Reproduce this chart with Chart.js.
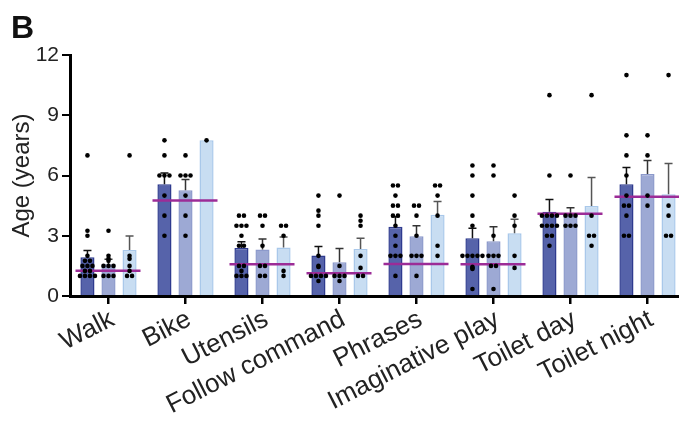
<!DOCTYPE html>
<html>
<head>
<meta charset="utf-8">
<script src="https://cdn.jsdelivr.net/npm/chart.js@4"></script>
<style>
  body { margin: 0; width: 679px; height: 422px; overflow: hidden; background: #fff; }
  #wrap { position: relative; width: 690px; height: 422px; }
  #panel { position: absolute; left: 11px; top: 11px; font: bold 32px "Liberation Sans", Arial, sans-serif; line-height: 32px; color: #111; }
</style>
</head>
<body>
<div id="wrap">
  <canvas id="chart" width="690" height="422"></canvas>
  <div id="panel">B</div>
</div>
<script>
// categories and values
const categories = ["Walk", "Bike", "Utensils", "Follow command", "Phrases", "Imaginative play", "Toilet day", "Toilet night"];

const meanDark = [1.93, 5.56, 2.39, 2.02, 3.45, 2.87, 4.19, 5.57];
const meanMid = [1.58, 5.26, 2.32, 1.68, 2.97, 2.72, 4.08, 6.08];
const meanLight = [2.29, 7.76, 2.42, 2.34, 4.05, 3.12, 4.48, 5.07];

const errDark = [0.34, 0.57, 0.31, 0.45, 0.5, 0.5, 0.62, 0.83];
const errMid = [0.25, 0.54, 0.52, 0.69, 0.53, 0.73, 0.31, 0.67];
const errLight = [0.7, 0, 0.52, 0.53, 0.66, 0.7, 1.42, 1.53];

const magentaLine = [1.26, 4.76, 1.58, 1.13, 1.59, 1.58, 4.09, 4.94];

const dotsDark = [
  [7, 3.25, 3, 2, 1.75, 1.75, 1.5, 1.5, 1.5, 1.25, 1.25, 1, 1, 1, 1],
  [7.75, 7, 6, 6, 6, 5, 4, 3],
  [4, 4, 3.5, 3.5, 3.5, 3, 2.5, 2.5, 1.5, 1.5, 1.25, 1, 1, 1],
  [5, 4.25, 4, 3.5, 2, 1.5, 1.45, 1, 1, 1, 1, 0.75],
  [5.5, 5.5, 5, 4.5, 4.5, 4, 4, 3.5, 3, 2.5, 2, 2, 2, 1],
  [6.5, 6, 5, 4, 3.5, 2, 2, 2, 2, 2, 1.45, 1.4, 1.35, 0.35],
  [10, 6, 4, 4, 4, 4, 3.5, 3.5, 3.5, 3.5, 3, 3, 2.5],
  [11, 8, 7, 6, 5, 4.5, 4.5, 4, 3, 3]
];
const dotsMid = [
  [3.25, 2, 1.85, 1.75, 1.5, 1.5, 1.5, 1, 1, 1],
  [7, 6, 6, 6, 5, 4, 3],
  [4, 4, 3.5, 2.5, 1.5, 1.5, 1, 1],
  [5, 1.5, 1, 1, 1, 0.75],
  [4.5, 4.5, 4, 3, 2, 2, 2, 1],
  [6.5, 6, 3, 2, 2, 2, 1.5, 1.5, 0.35],
  [6, 4, 4, 4, 3.5, 3.5, 3.5],
  [8, 7, 5, 4.5]
];
const dotsLight = [
  [7, 2, 1.85, 1.5, 1.25, 1, 1],
  [7.75],
  [3.5, 3.5, 3, 1.25, 1],
  [4, 3.75, 3.5, 2, 1.4, 1, 1],
  [5.5, 5.5, 5, 4, 2.5, 2],
  [5, 4, 3.5, 2, 1.4],
  [10, 4, 3, 3, 2.5],
  [11, 4.5, 4, 3, 3]
];

const yTicks = [0, 3, 6, 9, 12];

Chart.defaults.font.family = "'Liberation Sans', Arial, sans-serif";
Chart.defaults.color = "#222";

// error bars right after each bar set
const errorBars = {
  id: "errorBars",
  afterDatasetDraw(chart, args) {
    const ds = chart.data.datasets[args.index];
    if (!ds.errors) return;
    const ctx = chart.ctx;
    const y = chart.scales.y;
    ctx.save();
    ctx.strokeStyle = ds.errorColor;
    ctx.lineWidth = 1.5;
    args.meta.data.forEach((bar, i) => {
      const e = ds.errors[i];
      if (!e) return;
      const top = y.getPixelForValue(ds.data[i] + e);
      ctx.beginPath();
      ctx.moveTo(bar.x, bar.y);
      ctx.lineTo(bar.x, top);
      ctx.moveTo(bar.x - 4, top);
      ctx.lineTo(bar.x + 4, top);
      ctx.stroke();
    });
    ctx.restore();
  }
};

// magenta reference line per category, then individual dots over each bar
const overlay = {
  id: "overlay",
  afterDatasetsDraw(chart) {
    const ctx = chart.ctx;
    const y = chart.scales.y;
    const mid = chart.getDatasetMeta(1).data;
    ctx.save();
    ctx.strokeStyle = "#9C2C97";
    ctx.lineWidth = 2.5;
    magentaLine.forEach((v, i) => {
      const py = y.getPixelForValue(v);
      ctx.beginPath();
      ctx.moveTo(mid[i].x - 33, py);
      ctx.lineTo(mid[i].x + 32, py);
      ctx.stroke();
    });
    ctx.fillStyle = "#000";
    [dotsDark, dotsMid, dotsLight].forEach((groups, d) => {
      const bars = chart.getDatasetMeta(d).data;
      groups.forEach((vals, i) => {
        const counts = {};
        vals.forEach(v => counts[v] = (counts[v] || 0) + 1);
        const seen = {};
        vals.forEach(v => {
          const k = counts[v];
          const j = seen[v] || 0;
          seen[v] = j + 1;
          const px = bars[i].x + (j - (k - 1) / 2) * 5;
          ctx.beginPath();
          ctx.arc(px, y.getPixelForValue(v), 2.3, 0, Math.PI * 2);
          ctx.fill();
        });
      });
    });
    ctx.restore();
  }
};

function barSet(data, errors, fill, border, errColor) {
  return {
    data: data, errors: errors, errorColor: errColor,
    backgroundColor: fill, borderColor: border, borderWidth: 1.5,
    categoryPercentage: 0.82, barPercentage: 0.67
  };
}

new Chart(document.getElementById("chart"), {
  type: "bar",
  data: {
    labels: categories,
    datasets: [
      barSet(meanDark, errDark, "#5663AA", "#2F3B8E", "#111"),
      barSet(meanMid, errMid, "#9DA9D4", "#8C99CB", "#333"),
      barSet(meanLight, errLight, "#C8DDF2", "#A9C8EA", "#555")
    ]
  },
  options: {
    responsive: false,
    animation: false,
    layout: { padding: { top: 55, right: 4, left: 0, bottom: 0 } },
    plugins: { legend: { display: false }, tooltip: { enabled: false } },
    scales: {
      x: {
        grid: { offset: false, drawOnChartArea: false, tickLength: 8, color: "#000", lineWidth: 2.5 },
        border: { color: "#000", width: 3 },
        ticks: { autoSkip: false, minRotation: 27, maxRotation: 27, font: { size: 26 }, color: "#222", padding: 0, labelOffset: 4 },
        afterFit(scale) { scale.height = 126; }
      },
      y: {
        min: 0,
        max: 12,
        afterBuildTicks(scale) { scale.ticks = yTicks.map(v => ({ value: v })); },
        grid: { drawOnChartArea: false, tickLength: 8, color: "#000", lineWidth: 2 },
        border: { color: "#000", width: 3 },
        ticks: { font: { size: 21 }, color: "#222", padding: 3 },
        title: { display: true, text: "Age (years)", font: { size: 24 }, color: "#222", padding: { top: 8, bottom: 0 } },
        afterFit(scale) { scale.width = 70; }
      }
    }
  },
  plugins: [errorBars, overlay]
});
</script>
</body>
</html>
